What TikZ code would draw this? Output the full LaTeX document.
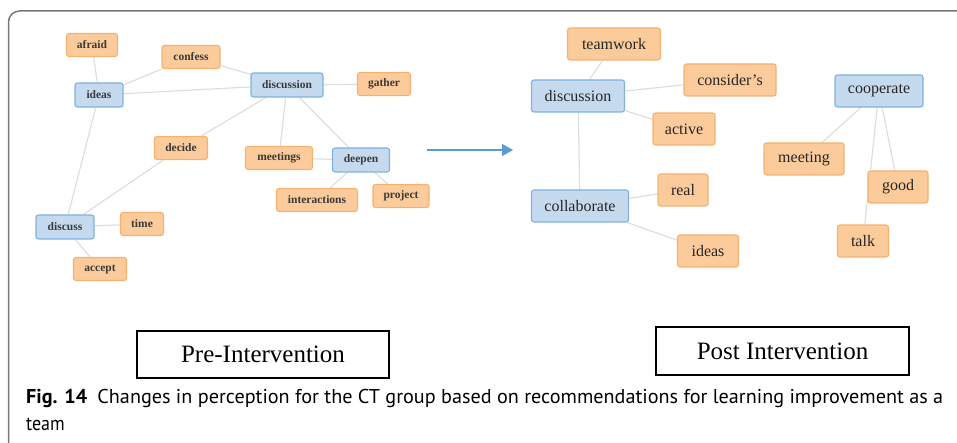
\documentclass[tikz,border=0pt]{standalone}
\usepackage{fontspec}
\usepackage{graphicx}
\setmainfont{Liberation Serif}
\newfontfamily\capfont{PT Sans}
\usetikzlibrary{arrows.meta,backgrounds}
\definecolor{ofill}{HTML}{FBCB9B}
\definecolor{odraw}{HTML}{F6B16F}
\definecolor{bfill}{HTML}{C6DAEF}
\definecolor{bdraw}{HTML}{7FB2DD}
\definecolor{edgec}{HTML}{DEDEDE}
\definecolor{arrc}{HTML}{5B9BD5}
\definecolor{framec}{HTML}{777777}
\definecolor{txtc}{HTML}{262626}
\definecolor{pretxt}{HTML}{3A3A3A}
\tikzset{
  x=1pt, y=-1pt,
  base/.style={rounded corners=2.5pt, line width=1.1pt, inner sep=0pt, text=txtc},
  prefont/.style={text=pretxt, font=\fontsize{11.5}{13}\selectfont\bfseries},
  preo/.style={base, prefont, fill=ofill, draw=odraw, minimum height=23pt},
  preb/.style={base, prefont, fill=bfill, draw=bdraw, minimum height=24pt},
  posto/.style={base, fill=ofill, draw=odraw, minimum height=32pt, font=\fontsize{16}{18}\selectfont},
  postb/.style={base, fill=bfill, draw=bdraw, minimum height=32pt, font=\fontsize{16}{18}\selectfont},
  edge/.style={draw=edgec, line width=1.2pt},
  labbox/.style={draw=black, line width=1.3pt, inner sep=0pt, font=\fontsize{25}{28}\selectfont},
}
\begin{document}
\begin{tikzpicture}
\useasboundingbox (0,0) rectangle (957,443);
% frame
\draw[framec, line width=1.5pt, rounded corners=11pt] (8.5,443) -- (8.5,11) -- (957,11);

% ---------- Pre-intervention ----------
\node[preo, minimum width=51pt] (afraid) at (92,45) {afraid};
\node[preo, minimum width=58pt] (confess) at (191,57) {confess};
\node[preb, minimum width=48pt] (ideas) at (99,95) {ideas};
\node[preb, minimum width=72pt] (discussion) at (287,85) {discussion};
\node[preo, minimum width=53pt] (gather) at (384,84) {gather};
\node[preo, minimum width=53pt] (decide) at (181,148) {decide};
\node[preo, minimum width=67pt] (meetings) at (279,158) {meetings};
\node[preb, minimum width=57pt] (deepen) at (361,160) {deepen};
\node[preo, minimum width=81pt] (interactions) at (317,200) {interactions};
\node[preo, minimum width=56pt] (project) at (401,196) {project};
\node[preb, minimum width=58pt] (discuss) at (65,227) {discuss};
\node[preo, minimum width=43pt] (time) at (142,224) {time};
\node[preo, minimum width=53pt] (accept) at (100,269) {accept};

% ---------- Post-intervention ----------
\node[posto, minimum width=93pt] (teamwork) at (614,44) {teamwork};
\node[postb, minimum width=93pt] (pdiscussion) at (578,96) {discussion};
\node[posto, minimum width=92pt] (considers) at (730,80) {consider's};
\node[posto, minimum width=62pt] (active) at (684,129) {active};
\node[postb, minimum width=97pt] (collaborate) at (580,206) {collaborate};
\node[posto, minimum width=50pt] (real) at (683,190) {real};
\node[posto, minimum width=61pt] (pideas) at (708,251) {ideas};
\node[postb, minimum width=88pt] (cooperate) at (879,91) {cooperate};
\node[posto, minimum width=80pt] (meeting) at (804,159) {meeting};
\node[posto, minimum width=60pt] (good) at (898,187) {good};
\node[posto, minimum width=51pt] (talk) at (863,241) {talk};

\begin{scope}[on background layer]
% edges (pre)
\path[edge] (afraid) -- (ideas);
\path[edge] (confess) -- (ideas);
\path[edge] (confess) -- (discussion);
\path[edge] (ideas) -- (discussion);
\path[edge] (discussion) -- (gather);
\path[edge] (discussion) -- (decide);
\path[edge] (decide) -- (discuss);
\path[edge] (ideas) -- (discuss);
\path[edge] (discussion) -- (meetings);
\path[edge] (discussion) -- (deepen);
\path[edge] (meetings) -- (deepen);
\path[edge] (deepen) -- (interactions);
\path[edge] (deepen) -- (project);
\path[edge] (discuss) -- (time);
\path[edge] (discuss) -- (accept);
% edges (post)
\path[edge] (teamwork) -- (pdiscussion);
\path[edge] (pdiscussion) -- (considers);
\path[edge] (pdiscussion) -- (active);
\path[edge] (pdiscussion) -- (collaborate);
\path[edge] (collaborate) -- (real);
\path[edge] (collaborate) -- (pideas);
\path[edge] (cooperate) -- (meeting);
\path[edge] (cooperate) -- (talk);
\path[edge] (cooperate) -- (good);
\end{scope}

% arrow
\coordinate (arrS) at (427,150);
\coordinate (arrE) at (513,150);
\draw[arrc, line width=1.5pt, -{Triangle[length=11pt,width=12pt]}] (arrS) -- (arrE);

% label boxes
\node[labbox, minimum width=252pt, minimum height=47pt] (prelab) at (263,354.5) {Pre-Intervention};
\node[labbox, minimum width=253pt, minimum height=48pt] (postlab) at (782.5,351) {Post Intervention};

% caption
\node[anchor=base west, inner sep=0pt, text=black] (cap1) at (26,403)
  {\resizebox{917pt}{\height}{\capfont\fontsize{20}{24}\selectfont\textbf{Fig. 14}\hspace{0.5em}Changes in perception for the CT group based on recommendations for learning improvement as a}};
\node[anchor=base west, inner sep=0pt, text=black] (cap2) at (26,430)
  {\scalebox{0.9}[1]{\capfont\fontsize{20}{24}\selectfont team}};
\end{tikzpicture}
\end{document}
